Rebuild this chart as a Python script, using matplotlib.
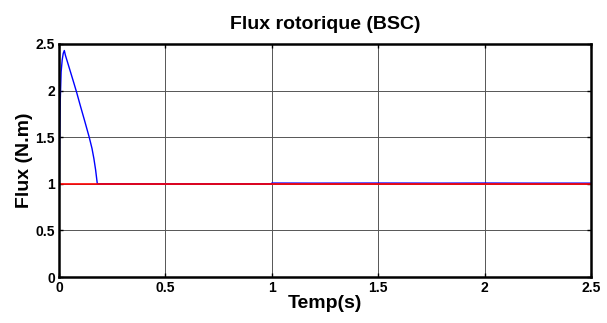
import matplotlib.pyplot as plt

plt.rcParams['font.family'] = ['Liberation Sans', 'DejaVu Sans']

# flux estime (bleu)
t_flux = [0, 0.001, 0.003, 0.006, 0.01, 0.015, 0.02, 0.025, 0.03, 0.05, 0.07,
          0.083, 0.1, 0.12, 0.142, 0.155, 0.164, 0.172, 0.18, 1.0, 1.0, 1.2,
          1.5, 1.8, 2.0, 2.2, 2.5]
flux = [0, 0.65, 1.4, 1.9, 2.2, 2.33, 2.4, 2.43, 2.38, 2.23, 2.08, 1.98, 1.84,
        1.68, 1.5, 1.38, 1.27, 1.15, 1.0, 1.0, 1.008, 1.007, 1.008, 1.007,
        1.008, 1.007, 1.007]

# flux de reference (rouge)
t_ref = [0, 2.5]
flux_ref = [1, 1]

xticks = [0, 0.5, 1, 1.5, 2, 2.5]
xticklabels = ['0', '0.5', '1', '1.5', '2', '2.5']
yticks = [0, 0.5, 1, 1.5, 2, 2.5]
yticklabels = ['0', '0.5', '1', '1.5', '2', '2.5']

fig = plt.figure(figsize=(6.07, 3.23), dpi=100)
ax = fig.add_axes([0.0972, 0.1424, 0.8764, 0.7214])

ax.plot(t_flux, flux, color='#0000ff', lw=1.0)
ax.plot(t_ref, flux_ref, color='#ff0000', lw=1.2)

ax.set_xlim(0, 2.5)
ax.set_ylim(0, 2.5)
ax.set_xticks(xticks)
ax.set_xticklabels(xticklabels, fontsize=10, fontweight='bold')
ax.set_yticks(yticks)
ax.set_yticklabels(yticklabels, fontsize=10, fontweight='bold')
ax.tick_params(direction='in', length=3, width=1, top=True, right=True, pad=3)

ax.grid(True, color='#555555', lw=0.7)
for s in ax.spines.values():
    s.set_linewidth(1.8)

ax.set_title('Flux rotorique (BSC)', fontsize=14, fontweight='bold', pad=11)
ax.set_xlabel('Temp(s)', fontsize=14, fontweight='bold', labelpad=0)
ax.set_ylabel('Flux (N.m)', fontsize=14, fontweight='bold', labelpad=2)

plt.savefig('out.png', dpi=100)
